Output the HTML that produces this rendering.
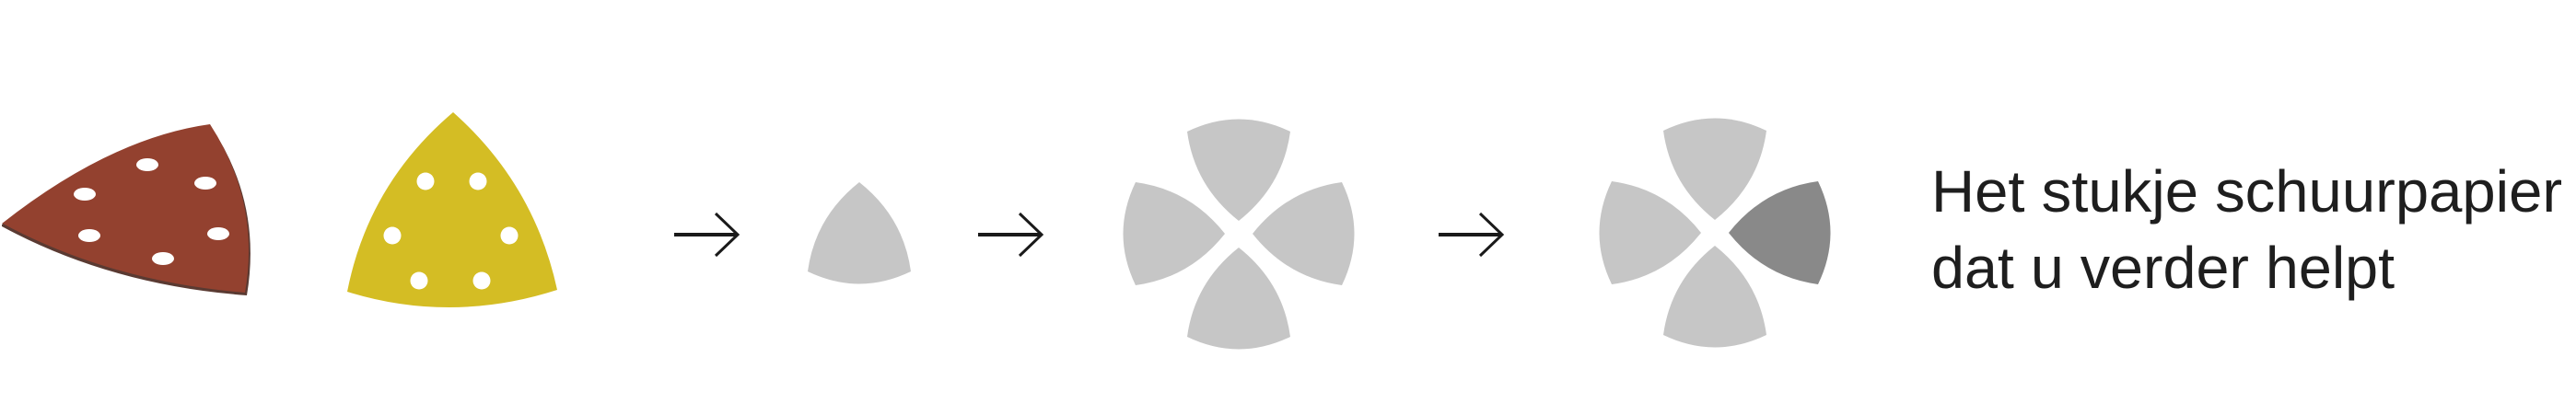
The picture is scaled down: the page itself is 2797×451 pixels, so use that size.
<!DOCTYPE html>
<html><head><meta charset="utf-8"><style>html,body{margin:0;padding:0;background:#fff;width:2797px;height:451px;overflow:hidden}</style></head>
<body>
<svg width="2797" height="451" viewBox="0 0 2797 451" xmlns="http://www.w3.org/2000/svg">
<defs>
<path id="pet" d="M0,0 Q-48,-38 -56,-97 Q0,-124 56,-97 Q48,-38 0,0 Z"/>
<g id="arr"><line x1="0" y1="23" x2="68" y2="23" stroke="#1a1a1a" stroke-width="4"/><polyline points="45,0 69,23 45,46" fill="none" stroke="#1a1a1a" stroke-width="3"/></g>
</defs>
<path d="M2,244 Q120,150 228,136 Q285,220 268,321 Q120,310 2,246 Z" fill="#5a3a32"/>
<path d="M2,243 Q120,150 228,135 Q283,220 266,318 Q120,306 3,243 Z" fill="#93412f"/>
<g fill="#fff"><ellipse cx="160" cy="179" rx="12" ry="7"/><ellipse cx="223" cy="199" rx="12" ry="7"/><ellipse cx="92" cy="211" rx="12" ry="7"/><ellipse cx="97" cy="256" rx="12" ry="7"/><ellipse cx="237" cy="254" rx="12" ry="7"/><ellipse cx="177" cy="281" rx="12" ry="7"/></g>
<path d="M492,122 Q580,200 605,315 Q490,352 377,317 Q400,200 492,122 Z" fill="#d4bd24"/>
<g fill="#fff"><circle cx="462" cy="197" r="9.5"/><circle cx="519" cy="197" r="9.5"/><circle cx="426" cy="256" r="9.5"/><circle cx="553" cy="256" r="9.5"/><circle cx="455" cy="305" r="9.5"/><circle cx="523" cy="305" r="9.5"/></g>
<use href="#arr" x="732" y="232"/>
<use href="#pet" fill="#c6c6c6" transform="translate(933,198) rotate(180)"/>
<use href="#arr" x="1062" y="232"/>
<g fill="#c6c6c6">
<use href="#pet" transform="translate(1345,240)"/>
<use href="#pet" transform="translate(1345,269) rotate(180)"/>
<use href="#pet" transform="translate(1330,254) rotate(-90)"/>
<use href="#pet" transform="translate(1360,254) rotate(90)"/>
</g>
<use href="#arr" x="1562" y="232"/>
<g fill="#c6c6c6">
<use href="#pet" transform="translate(1862,239)"/>
<use href="#pet" transform="translate(1862,267) rotate(180)"/>
<use href="#pet" transform="translate(1847,253) rotate(-90)"/>
</g>
<use href="#pet" fill="#898989" transform="translate(1877,253) rotate(90)"/>
<g font-family="Liberation Sans, sans-serif" font-size="64" fill="#1e1e1e" transform="translate(2097,0) scale(1.3,1)">
<text x="0" y="230" textLength="527" lengthAdjust="spacingAndGlyphs">Het stukje schuurpapier</text>
<text x="0" y="313" textLength="387" lengthAdjust="spacingAndGlyphs">dat u verder helpt</text>
</g>
</svg>
</body></html>
